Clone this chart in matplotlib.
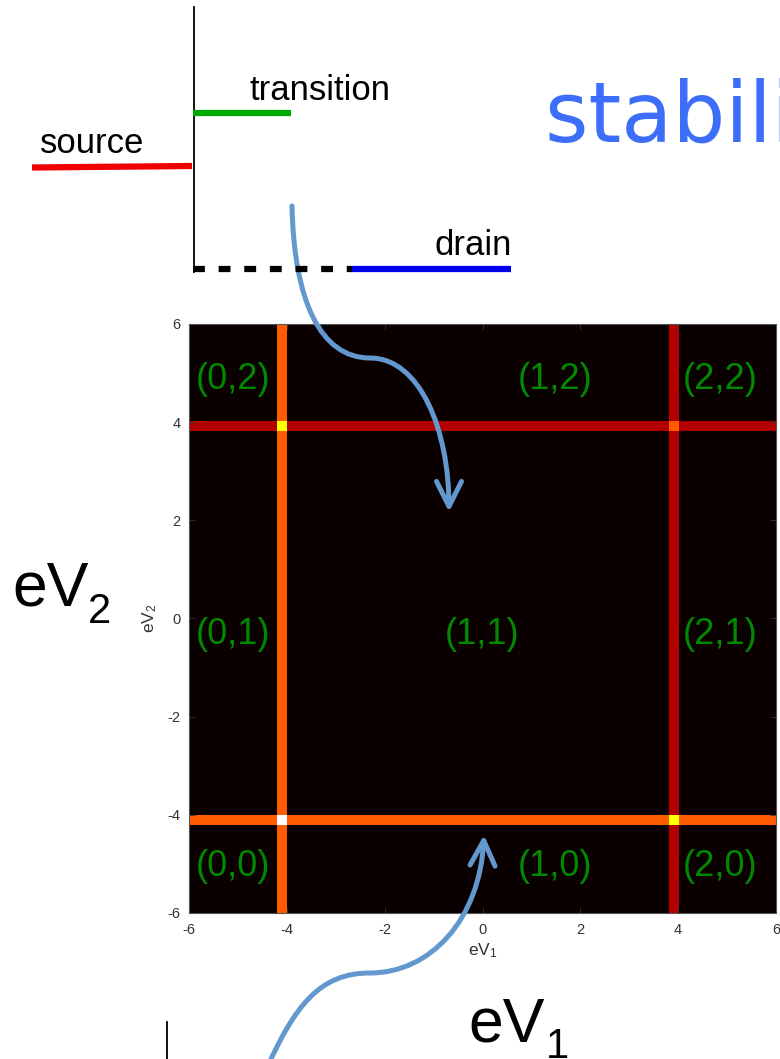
import numpy as np
import matplotlib
matplotlib.use("Agg")
import matplotlib.pyplot as plt
from matplotlib.path import Path
from matplotlib.patches import FancyArrowPatch

plt.rcParams['font.family'] = ['Liberation Sans', 'DejaVu Sans']
plt.rcParams['mathtext.fontset'] = 'custom'
plt.rcParams['mathtext.rm'] = 'Liberation Sans'
plt.rcParams['axes.unicode_minus'] = False

# charge transitions: gate voltage where a line sits, and its strength
v1_lines = [-4.1, 3.9]
v1_strength = [0.5, 0.25]
v2_lines = [3.9, -4.1]
v2_strength = [0.25, 0.5]
line_width = 0.2
step = 0.1

# occupation labels (n1, n2) and where they sit in the diagram
occ_labels = ['(0,2)', '(1,2)', '(2,2)', '(0,1)', '(1,1)', '(2,1)', '(0,0)', '(1,0)', '(2,0)']
occ_x = [-5.1, 1.48, 4.86, -5.1, 0.0, 4.86, -5.1, 1.48, 4.86]
occ_y = [4.87, 4.87, 4.87, -0.33, -0.33, -0.33, -5.05, -5.05, -5.05]
ticks = [-6, -4, -2, 0, 2, 4, 6]

edges = np.arange(-6, 6 + step / 2, step)
centers = 0.5 * (edges[1:] + edges[:-1])
X, Y = np.meshgrid(centers, centers)
Z = np.zeros_like(X)
for v, s in zip(v1_lines, v1_strength):
    Z += s * (np.abs(X - v) < line_width / 2)
for v, s in zip(v2_lines, v2_strength):
    Z += s * (np.abs(Y - v) < line_width / 2)

fig = plt.figure(figsize=(7.8, 10.59), dpi=100)

ax = fig.add_axes([0.2423, 0.1379, 0.7526, 0.5562])
ax.imshow(Z, cmap='hot', vmin=0, vmax=1, origin='lower',
          extent=[-6, 6, -6, 6], interpolation='nearest', aspect='auto')
ax.set_xlim(-6, 6)
ax.set_ylim(-6, 6)
ax.set_xticks(ticks)
ax.set_yticks(ticks)
ax.tick_params(direction='in', top=True, right=True, length=4, width=0.6,
               labelsize=10.5, colors='#333333', pad=7)
ax.tick_params(axis='y', pad=6)
for sp in ax.spines.values():
    sp.set_color('#555555')
    sp.set_linewidth(0.8)
ax.set_xlabel(r'$\mathregular{eV_1}$', fontsize=12.5, labelpad=3, color='#333333')
ax.set_ylabel(r'$\mathregular{eV_2}$', fontsize=12.5, labelpad=6, color='#333333')
for lab, x, y in zip(occ_labels, occ_x, occ_y):
    ax.text(x, y, lab, color='#008A00', fontsize=26, ha='center', va='center')

# overlay in pixel units for the level sketch, big labels and arrows
ov = fig.add_axes([0, 0, 1, 1], zorder=5)
ov.set_xlim(0, 780)
ov.set_ylim(1059, 0)
ov.axis('off')
ov.patch.set_alpha(0)

ov.plot([193.5, 193.5], [7, 272], color='black', lw=1.3)
ov.plot([32, 192], [167.5, 166], color='#F00000', lw=4.5, solid_capstyle='butt')
ov.plot([193, 291], [112.5, 112.5], color='#00AA00', lw=4.5, solid_capstyle='butt')
ov.plot([193, 352], [269, 269], color='black', lw=4.5, dashes=(1.9, 2.2))
ov.plot([352, 511], [269, 269], color='#0000F0', lw=4.5, solid_capstyle='butt')
ov.text(40, 153, 'source', fontsize=25, va='baseline')
ov.text(250, 100, 'transition', fontsize=25, va='baseline')
ov.text(434, 255, 'drain', fontsize=25, va='baseline')

ov.text(545, 142, 'stability diagram', fontsize=60, color='#3C6EFA',
        va='baseline', family=['DejaVu Sans'])

# big axis names, subscripts set by hand so they stay large
ov.text(12, 605, 'eV', fontsize=45, va='baseline')
ov.text(88, 623, '2', fontsize=30, va='baseline')
ov.text(468, 1042, 'eV', fontsize=45, va='baseline')
ov.text(546, 1058, '1', fontsize=30, va='baseline')
ov.plot([167, 167], [1022, 1062], color='black', lw=1.3)

arrow_paths = [
    [(292, 206), (294, 300), (320, 358), (370, 358),
     (420, 358), (449, 430), (449, 512)],
    [(266, 1070), (295, 1005), (320, 973), (370, 973),
     (430, 973), (480, 920), (484, 835)],
]
codes = [Path.MOVETO] + [Path.CURVE4] * 6
for pts in arrow_paths:
    arr = FancyArrowPatch(path=Path(pts, codes),
                          arrowstyle='->,head_length=0.9,head_width=0.45',
                          mutation_scale=20, color='#6298CE', lw=3.6,
                          capstyle='round', joinstyle='round')
    ov.add_patch(arr)

fig.savefig('out.png', dpi=100)
